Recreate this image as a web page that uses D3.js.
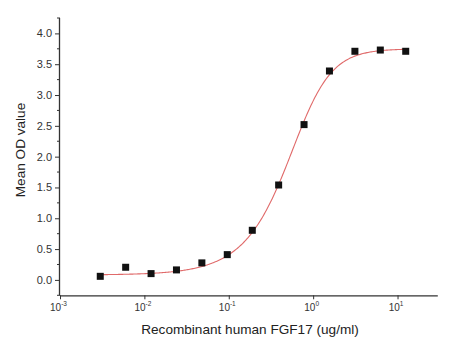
<!DOCTYPE html>
<html><head><meta charset="utf-8">
<script src="https://cdn.jsdelivr.net/npm/d3@7"></script>
<style>
body{margin:0;background:#fff;}
svg{display:block;font-family:"Liberation Sans",Arial,sans-serif;}
</style></head><body>
<svg id="c" width="456" height="348"></svg>
<script>
// Data
const concentrations = [0.003, 0.006, 0.012, 0.024, 0.048, 0.096, 0.19, 0.39, 0.78, 1.56, 3.125, 6.25, 12.5];
const meanOD = [0.058, 0.205, 0.102, 0.162, 0.276, 0.41, 0.805, 1.54, 2.52, 3.39, 3.71, 3.73, 3.71];
const xTickValues = [0.001, 0.01, 0.1, 1, 10];
const xTickExponents = ["-3", "-2", "-1", "0", "1"];
const yTickValues = [0, 0.5, 1, 1.5, 2, 2.5, 3, 3.5, 4];
const yTickLabels = ["0.0", "0.5", "1.0", "1.5", "2.0", "2.5", "3.0", "3.5", "4.0"];
const yMinorTicks = [-0.25, 0.25, 0.75, 1.25, 1.75, 2.25, 2.75, 3.25, 3.75, 4.25];
// fitted dose-response curve parameters
const fitBottom = 0.08, fitTop = 3.75, fitC = 0.74, fitB = 2.0, fitG = 0.6;

const svg = d3.select("#c");
const x = d3.scaleLog().domain([0.001, 30]).range([60, 437.8]);
const y = d3.scaleLinear().domain([-0.25, 4.25]).range([295.3, 18]);
const axisColor = "#333", textColor = "#333";

// curve
const curvePts = d3.range(0, 301).map(i => {
  const lx = Math.log10(0.003) + i * (Math.log10(12.5) - Math.log10(0.003)) / 300;
  const cx = Math.pow(10, lx);
  const f = Math.pow(1 + Math.pow(fitC / cx, fitB), -fitG);
  return [cx, fitBottom + (fitTop - fitBottom) * f];
});
svg.append("path").datum(curvePts)
  .attr("d", d3.line().x(d => x(d[0])).y(d => y(d[1])).curve(d3.curveLinear))
  .attr("fill", "none").attr("stroke", "#e06a6a").attr("stroke-width", 1.1);

// points
svg.selectAll("rect.pt").data(concentrations).enter().append("rect")
  .attr("class", "pt")
  .attr("x", (d) => x(d) - 3.5).attr("y", (d, i) => y(meanOD[i]) - 3.5)
  .attr("width", 7).attr("height", 7).attr("fill", "#111");

// y axis
const yAxis = d3.axisLeft(y).tickValues(yTickValues).tickSize(5).tickPadding(3)
  .tickFormat((d, i) => yTickLabels[i]);
const gy = svg.append("g").attr("transform", "translate(60,0)").call(yAxis);
gy.select(".domain").attr("d", `M-0.5,${y(4.25)}V${y(-0.25)}`);
gy.selectAll("line").attr("stroke", axisColor);
gy.select(".domain").attr("stroke", axisColor).attr("stroke-width", 1.3);
gy.selectAll("text").attr("fill", textColor).attr("font-size", 11)
  .attr("font-family", "Liberation Sans, Arial, sans-serif");
gy.selectAll("line.minor").data(yMinorTicks).enter().append("line")
  .attr("class", "minor").attr("x1", -3).attr("x2", 0)
  .attr("y1", d => y(d)).attr("y2", d => y(d)).attr("stroke", axisColor);

// x axis
const xAxis = d3.axisBottom(x).tickValues(xTickValues).tickSize(4).tickPadding(5)
  .tickFormat(() => "");
const gx = svg.append("g").attr("transform", "translate(0,295.3)").call(xAxis);
gx.select(".domain").attr("d", `M60,0.5H437.8`).attr("stroke", axisColor).attr("stroke-width", 1.3);
gx.selectAll("line").attr("stroke", axisColor);
gx.selectAll(".tick text").each(function(d, i) {
  const t = d3.select(this).attr("fill", textColor).attr("font-size", 10)
    .attr("font-family", "Liberation Sans, Arial, sans-serif").attr("dx", "-2");
  t.append("tspan").text("10");
  t.append("tspan").text(xTickExponents[i]).attr("font-size", 6.5).attr("dy", "-5");
});

// axis titles
svg.append("text").attr("x", 250).attr("y", 334).attr("text-anchor", "middle")
  .attr("font-size", 13.6).attr("fill", "#222").text("Recombinant human FGF17 (ug/ml)");
svg.append("text").attr("transform", "translate(25,150) rotate(-90)").attr("text-anchor", "middle")
  .attr("font-size", 13.6).attr("fill", "#222").text("Mean OD value");
</script></body></html>
